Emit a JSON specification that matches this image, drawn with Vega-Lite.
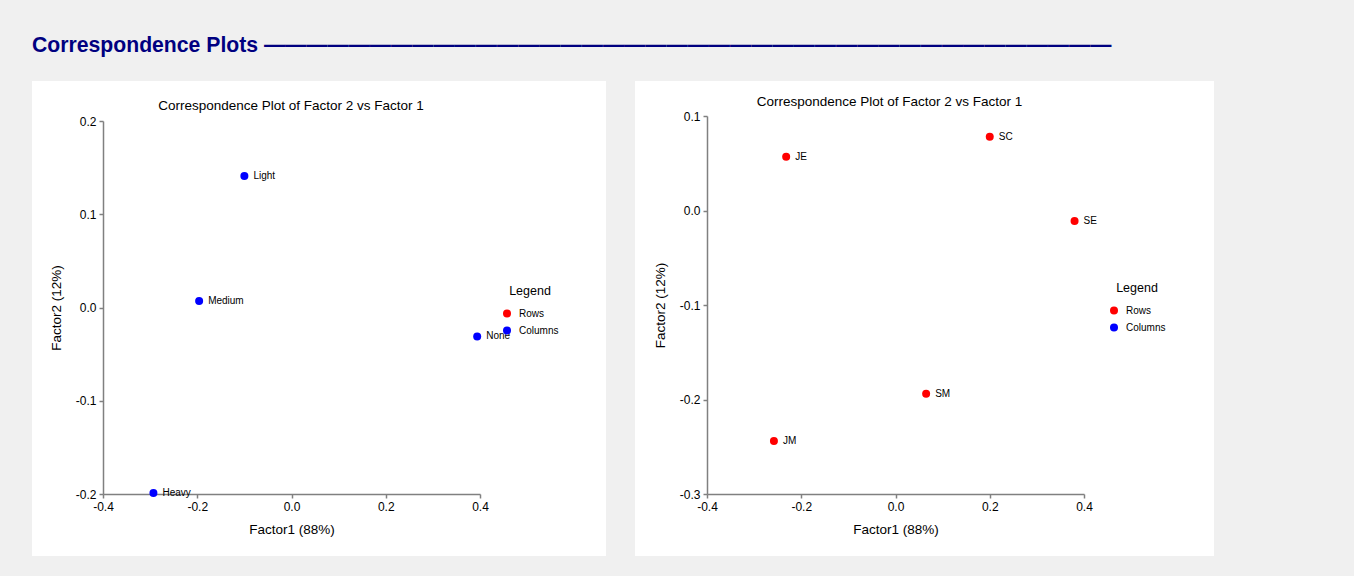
{
  "$schema": "https://vega.github.io/schema/vega-lite/v6.json",
  "background": "#f0f0f0",
  "padding": {"left": 32, "top": 34, "right": 140, "bottom": 21},
  "title": {
    "text": "Correspondence Plots ————————————————————————————————————————",
    "anchor": "start",
    "font": "Liberation Sans",
    "fontSize": 21.2,
    "fontWeight": "bold",
    "color": "#000080",
    "baseline": "top",
    "offset": 25
  },
  "spacing": 29,
  "resolve": {
    "scale": {"color": "independent", "x": "independent", "y": "independent"},
    "legend": {"color": "independent"}
  },
  "config": {
    "view": {"fill": "white", "stroke": null},
    "axis": {
      "grid": false,
      "domainColor": "#808080",
      "domainWidth": 1.5,
      "tickColor": "#808080",
      "tickWidth": 1.5,
      "tickSize": 4,
      "labelFont": "Liberation Sans",
      "labelFontSize": 12,
      "labelColor": "black",
      "labelPadding": 3,
      "labelFlush": false,
      "labelOverlap": false,
      "titleFont": "Liberation Sans",
      "titleFontSize": 13.5,
      "titleFontWeight": "normal",
      "titleColor": "black",
      "labelExpr": "replace(format(datum.value, '.1f'), '−', '-')"
    },
    "legend": {
      "titleFont": "Liberation Sans",
      "titleFontSize": 12.5,
      "titleFontWeight": "normal",
      "titleColor": "black",
      "titleAnchor": "middle",
      "titlePadding": 11,
      "labelFont": "Liberation Sans",
      "labelFontSize": 10,
      "labelColor": "black",
      "labelOffset": 7,
      "symbolSize": 64,
      "symbolType": "circle",
      "symbolStrokeWidth": 0,
      "rowPadding": 7,
      "padding": 0
    }
  },
  "hconcat": [
    {
      "width": 574,
      "height": 475,
      "title": {
        "text": "Correspondence Plot of Factor 2 vs Factor 1",
        "font": "Liberation Sans",
        "fontSize": 13.5,
        "fontWeight": "normal",
        "color": "black",
        "anchor": "middle",
        "baseline": "middle",
        "dx": -28,
        "offset": -38
      },
      "data": {
        "values": [
          {"name": "Light", "f1": -0.1, "f2": 0.141, "type": "Columns"},
          {"name": "Medium", "f1": -0.196, "f2": 0.007, "type": "Columns"},
          {"name": "None", "f1": 0.394, "f2": -0.031, "type": "Columns"},
          {"name": "Heavy", "f1": -0.293, "f2": -0.199, "type": "Columns"}
        ]
      },
      "encoding": {
        "x": {
          "field": "f1", "type": "quantitative",
          "scale": {"domain": [-0.4, 0.4], "range": [71, 448], "nice": false, "zero": false},
          "axis": {"values": [-0.4, -0.2, 0, 0.2, 0.4], "offset": -62, "title": "Factor1 (88%)", "titlePadding": 10}
        },
        "y": {
          "field": "f2", "type": "quantitative",
          "scale": {"domain": [-0.2, 0.2], "range": [413, 40], "nice": false, "zero": false},
          "axis": {"values": [-0.2, -0.1, 0, 0.1, 0.2], "offset": -71, "title": "Factor2 (12%)", "titlePadding": 12}
        }
      },
      "layer": [
        {
          "mark": {"type": "circle", "size": 64, "opacity": 1},
          "encoding": {
            "color": {
              "field": "type", "type": "nominal",
              "scale": {"domain": ["Rows", "Columns"], "range": ["#ff0000", "#0000ff"]},
              "legend": {"title": "Legend", "orient": "none", "legendX": 470, "legendY": 204}
            }
          }
        },
        {
          "mark": {"type": "text", "align": "left", "baseline": "middle", "dx": 9, "font": "Liberation Sans", "fontSize": 10, "color": "black"},
          "encoding": {"text": {"field": "name"}}
        }
      ]
    },
    {
      "width": 579,
      "height": 475,
      "title": {
        "text": "Correspondence Plot of Factor 2 vs Factor 1",
        "font": "Liberation Sans",
        "fontSize": 13.5,
        "fontWeight": "normal",
        "color": "black",
        "anchor": "middle",
        "baseline": "middle",
        "dx": -35,
        "offset": -34
      },
      "data": {
        "values": [
          {"name": "JE", "f1": -0.232, "f2": 0.057, "type": "Rows"},
          {"name": "SC", "f1": 0.2, "f2": 0.078, "type": "Rows"},
          {"name": "SE", "f1": 0.38, "f2": -0.011, "type": "Rows"},
          {"name": "SM", "f1": 0.065, "f2": -0.194, "type": "Rows"},
          {"name": "JM", "f1": -0.258, "f2": -0.244, "type": "Rows"}
        ]
      },
      "encoding": {
        "x": {
          "field": "f1", "type": "quantitative",
          "scale": {"domain": [-0.4, 0.4], "range": [72, 449], "nice": false, "zero": false},
          "axis": {"values": [-0.4, -0.2, 0, 0.2, 0.4], "offset": -62, "title": "Factor1 (88%)", "titlePadding": 10}
        },
        "y": {
          "field": "f2", "type": "quantitative",
          "scale": {"domain": [-0.3, 0.1], "range": [413, 35], "nice": false, "zero": false},
          "axis": {"values": [-0.3, -0.2, -0.1, 0, 0.1], "offset": -72, "title": "Factor2 (12%)", "titlePadding": 12}
        }
      },
      "layer": [
        {
          "mark": {"type": "circle", "size": 64, "opacity": 1},
          "encoding": {
            "color": {
              "field": "type", "type": "nominal",
              "scale": {"domain": ["Rows", "Columns"], "range": ["#ff0000", "#0000ff"]},
              "legend": {"title": "Legend", "orient": "none", "legendX": 474, "legendY": 201}
            }
          }
        },
        {
          "mark": {"type": "text", "align": "left", "baseline": "middle", "dx": 9, "font": "Liberation Sans", "fontSize": 10, "color": "black"},
          "encoding": {"text": {"field": "name"}}
        }
      ]
    }
  ]
}
